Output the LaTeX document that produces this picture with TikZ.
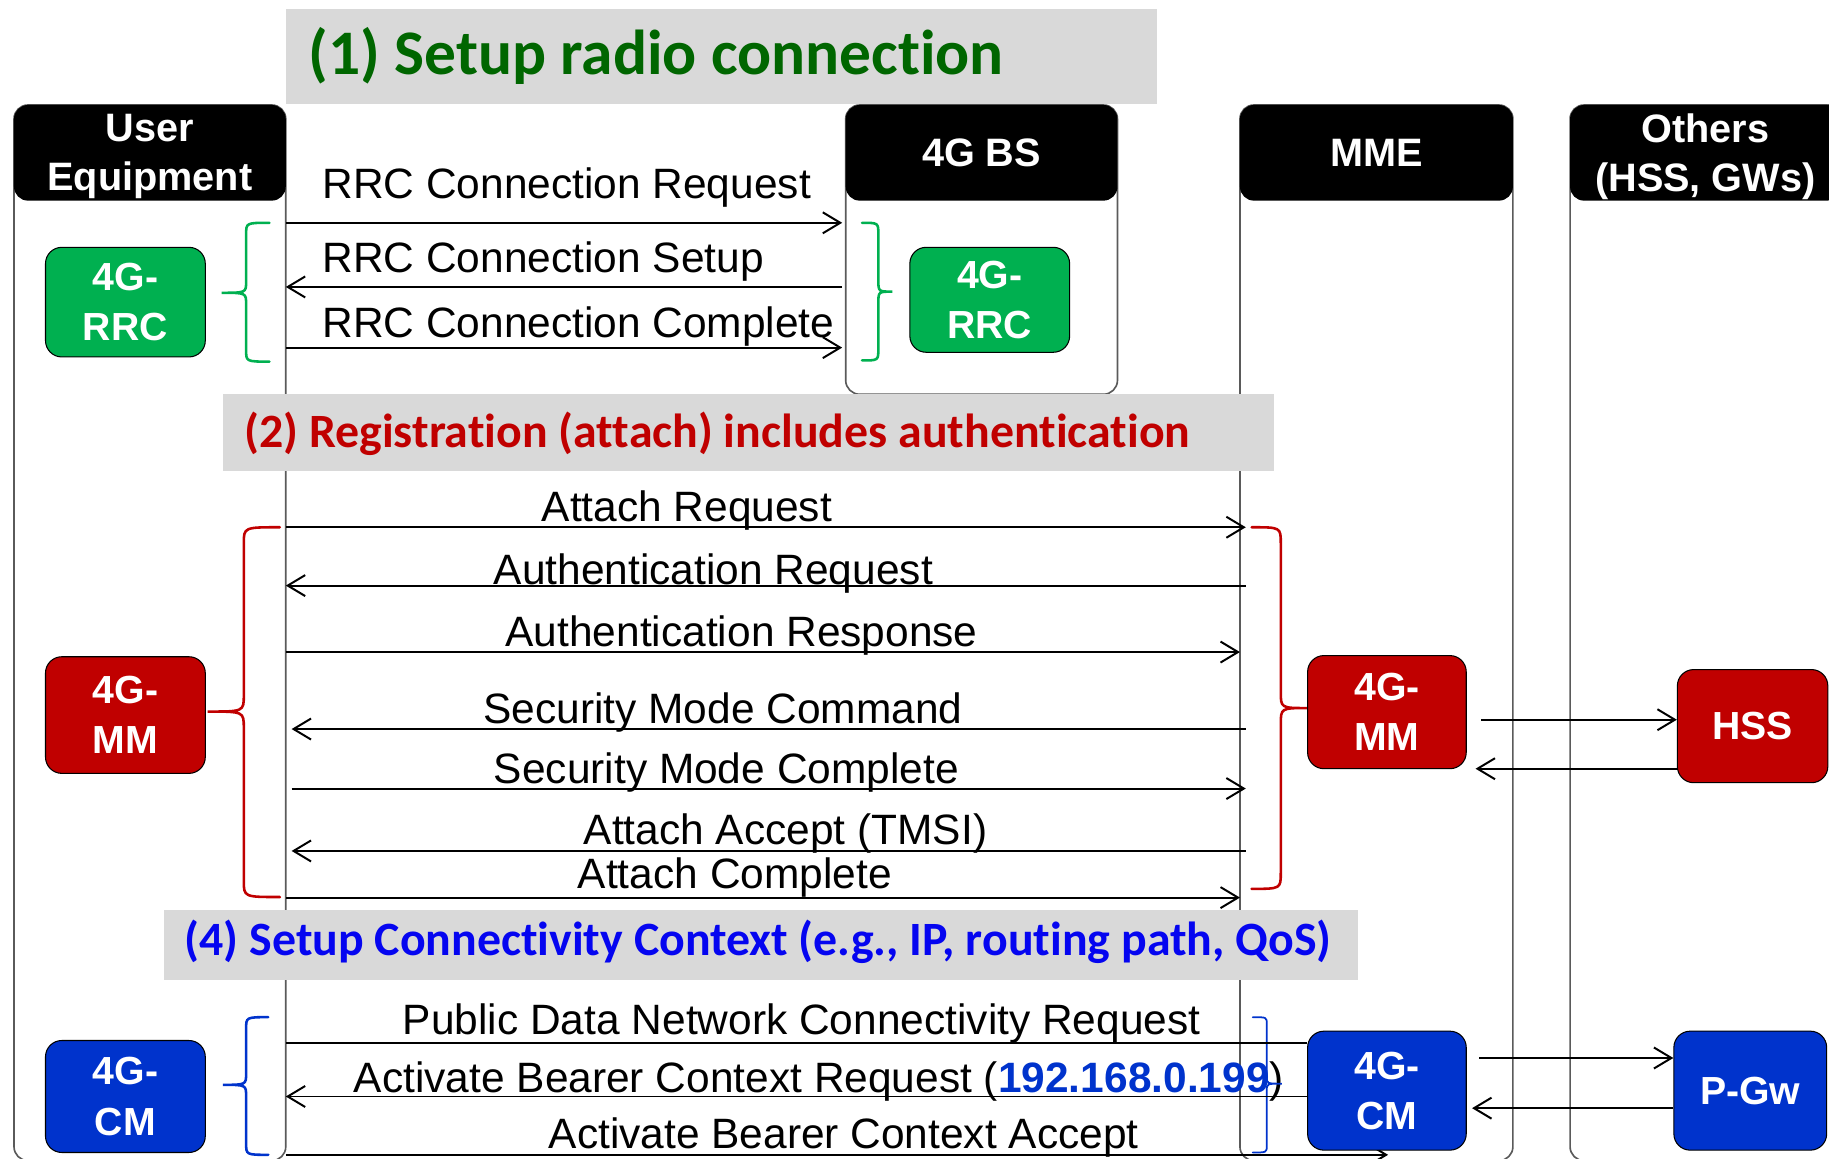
\documentclass[tikz,border=0pt]{standalone}
\usepackage{fontspec}
\setmainfont{Liberation Sans}
\newfontfamily\bannerfamily{Carlito}[Ligatures=NoCommon]
\usetikzlibrary{arrows.meta}

\definecolor{bannergray}{RGB}{217,217,217}
\definecolor{rrcgreen}{RGB}{0,176,80}
\definecolor{titlegreen}{RGB}{0,102,0}
\definecolor{mmred}{RGB}{192,0,0}
\definecolor{cmblue}{RGB}{0,51,204}
\definecolor{titleblue}{RGB}{5,5,240}
\definecolor{lifegray}{RGB}{90,90,90}

\begin{document}
\begin{tikzpicture}[x=0.5pt,y=-0.5pt,
  lifeline/.style={draw=lifegray,line width=0.7pt,rounded corners=6pt,anchor=north west,outer sep=0pt,inner sep=0pt},
  header/.style={fill=black,rounded corners=6pt,anchor=north west,outer sep=0pt,inner sep=0pt,text=white,align=center,
    minimum height=41pt,text depth=0pt,font=\fontsize{17pt}{21pt}\selectfont\bfseries},
  banner/.style={fill=bannergray,anchor=north west,inner sep=0pt,outer sep=0pt},
  bannertext/.style={anchor=base west,inner sep=0pt},
  widget/.style={draw=black,line width=0.45pt,rounded corners=7pt,text=white,align=center,inner sep=0pt,
    font=\fontsize{16.8pt}{21.5pt}\selectfont\bfseries},
  msglabel/.style={anchor=base west,inner sep=0pt,font=\fontsize{18.2pt}{22pt}\selectfont},
  msg/.style={draw=black,line width=0.85pt,-{Straight Barb[length=7.5pt,width=9pt,line width=0.85pt]}},
  plainmsg/.style={draw=black,line width=0.85pt},
  bracket/.style={line width=1.1pt,line cap=round}
]
\useasboundingbox (0,0) rectangle (1568,993);
\clip (0,0) rectangle (1568,993);

% lifelines of the four entities
\node[lifeline,minimum width=116.5pt,minimum height=452.5pt] (uecol) at (12,90) {};
\node[lifeline,minimum width=116.5pt,minimum height=124pt] (bscol) at (725,90) {};
\node[lifeline,minimum width=117pt,minimum height=452.5pt] (mmecol) at (1063,90) {};
\node[lifeline,minimum width=130pt,minimum height=452.5pt] (othcol) at (1346,90) {};

% phase banners
\node[banner,minimum width=373.5pt,minimum height=40.5pt] (ban1) at (245,8) {};
\node[bannertext,text=titlegreen,font=\bannerfamily\bfseries\fontsize{27.2pt}{30pt}\selectfont] (ban1txt) at (264,64) {(1) Setup radio connection};
\node[banner,minimum width=450.5pt,minimum height=33pt] (ban2) at (191,338) {};
\node[bannertext,text=mmred,font=\bannerfamily\bfseries\fontsize{20.5pt}{24pt}\selectfont] (ban2txt) at (209,384) {(2) Registration (attach) includes authentication};
\node[banner,minimum width=511.5pt,minimum height=30pt] (ban3) at (141,780) {};
\node[bannertext,text=titleblue,font=\bannerfamily\bfseries\fontsize{20.5pt}{24pt}\selectfont] (ban3txt) at (158,819) {(4) Setup Connectivity Context (e.g., IP, routing path, QoS)};

% entity headers
\node[header,minimum width=116.5pt] (uehdr) at (12,90) {User\\Equipment};
\node[header,minimum width=116.5pt] (bshdr) at (725,90) {4G BS};
\node[header,minimum width=117pt] (mmehdr) at (1063,90) {MME};
\node[header,minimum width=116pt] (othhdr) at (1346,90) {Others\\(HSS, GWs)};

% message end points on the lifelines
\coordinate (ueR) at (uecol.east);
\coordinate (ueIn) at ([xshift=2.5pt]uecol.east);
\coordinate (bsL) at (bscol.west);
\coordinate (bsTip) at ([xshift=-1.5pt]bscol.west);
\coordinate (mmeL) at (mmecol.west);
\coordinate (mmeTip) at ([xshift=2.5pt]mmecol.west);
\coordinate (accTip) at (1190,990);

% message labels
\node[msglabel] (l1) at (276,170) {RRC Connection Request};
\node[msglabel] (l2) at (276,234) {RRC Connection Setup};
\node[msglabel] (l3) at (276,289) {RRC Connection Complete};
\node[msglabel] (l4) at (464,447) {Attach Request};
\node[msglabel] (l5) at (423,501) {Authentication Request};
\node[msglabel] (l6) at (433,554) {Authentication Response};
\node[msglabel] (l7) at (414,620) {Security Mode Command};
\node[msglabel] (l8) at (423,671.5) {Security Mode Complete};
\node[msglabel] (l9) at (500,724) {Attach Accept (TMSI)};
\node[msglabel] (l10) at (495,761.5) {Attach Complete};
\node[msglabel] (l11) at (345,887) {Public Data Network Connectivity Request};
\node[msglabel] (l12) at (303,936.7) {Activate Bearer Context Request (\textcolor{cmblue}{\bfseries 192.168.0.199})};
\node[msglabel] (l13) at (470,984.4) {Activate Bearer Context Accept};

% radio connection messages
\draw[msg] (ueR |- 0,191) -- (bsTip |- 0,191);
\draw[msg] (bsTip |- 0,246) -- (ueR |- 0,246);
\draw[msg] (ueR |- 0,298) -- (bsTip |- 0,298);

% attach messages
\draw[msg] (ueR |- 0,452) -- (mmeTip |- 0,452);
\draw[msg] (mmeTip |- 0,502) -- (ueR |- 0,502);
\draw[msg] (ueR |- 0,559) -- (mmeL |- 0,559);
\draw[msg] (mmeTip |- 0,625) -- (ueIn |- 0,625);
\draw[msg] (ueIn |- 0,676) -- (mmeTip |- 0,676);
\draw[msg] (mmeTip |- 0,729.5) -- (ueIn |- 0,729.5);
\draw[msg] (ueR |- 0,769.5) -- (mmeL |- 0,769.5);

% bearer accept runs underneath the MME context box
\draw[msg] (ueR |- accTip) -- (accTip);

% braces grouping the protocol exchanges
\draw[bracket,rrcgreen] (231,191) .. controls (211,191) .. (211,201) -- (211,241) .. controls (211,251) .. (190,251)
  .. controls (211,251) .. (211,261) -- (211,300) .. controls (211,310) .. (231,310);
\draw[bracket,rrcgreen] (739,191) .. controls (753,191) .. (753,201) -- (753,240) .. controls (753,250) .. (765,250)
  .. controls (753,250) .. (753,260) -- (753,299) .. controls (753,309) .. (739,309);
\draw[bracket,mmred] (240,452) .. controls (209,452) .. (209,466) -- (209,596) .. controls (209,610) .. (178,610)
  .. controls (209,610) .. (209,624) -- (209,755) .. controls (209,769) .. (240,769);
\draw[bracket,mmred] (1073,452) .. controls (1098,452) .. (1098,466) -- (1098,593) .. controls (1098,607) .. (1121,607)
  .. controls (1098,607) .. (1098,621) -- (1098,748) .. controls (1098,762) .. (1073,762);
\draw[bracket,cmblue] (230,872) .. controls (211,872) .. (211,882) -- (211,920) .. controls (211,930) .. (191,930)
  .. controls (211,930) .. (211,940) -- (211,980) .. controls (211,990) .. (230,990);
\draw[bracket,cmblue,line width=0.75pt] (1074,872) .. controls (1086,872) .. (1086,878) -- (1086,923) .. controls (1086,929) .. (1099,929)
  .. controls (1086,929) .. (1086,935) -- (1086,982) .. controls (1086,988) .. (1074,988);

% protocol entities
\node[widget,fill=rrcgreen,minimum width=68.5pt,minimum height=47pt] (uerrc) at (107.5,259) {4G-\\RRC};
\node[widget,fill=rrcgreen,minimum width=68.5pt,minimum height=45pt] (bsrrc) at (848.5,257) {4G-\\RRC};
\node[widget,fill=mmred,minimum width=68.5pt,minimum height=50pt] (uemm) at (107.5,613) {4G-\\MM};
\node[widget,fill=mmred,minimum width=68pt,minimum height=48.5pt] (mmemm) at (1189,610.5) {4G-\\MM};
\node[widget,fill=mmred,minimum width=64.5pt,minimum height=48.5pt] (hss) at (1502.5,622.5) {HSS};
\node[widget,fill=cmblue,minimum width=68.5pt,minimum height=48pt] (uecm) at (107.5,940) {4G-\\CM};
\node[widget,fill=cmblue,minimum width=68pt,minimum height=51pt] (mmecm) at (1189,935) {4G-\\CM};
\node[widget,fill=cmblue,minimum width=65.5pt,minimum height=51pt] (pgw) at (1500.5,935) {P-Gw};

% connectivity messages ending at the MME context box
\draw[plainmsg] (ueR |- 0,894) -- (mmecm.west |- 0,894);
\draw[msg] (mmecm.west |- 0,940) -- (ueR |- 0,940);

% MME exchanges with the core nodes
\coordinate (mmOut) at (1270,617);
\coordinate (mmIn) at (1265,659);
\coordinate (cmOut) at (1268,907);
\coordinate (cmIn) at (1262,950);
\draw[msg] (mmOut) -- (hss.west |- mmOut);
\draw[msg] (hss.west |- mmIn) -- (mmIn);
\draw[msg] (cmOut) -- (pgw.west |- cmOut);
\draw[msg] (pgw.west |- cmIn) -- (cmIn);
\end{tikzpicture}
\end{document}
